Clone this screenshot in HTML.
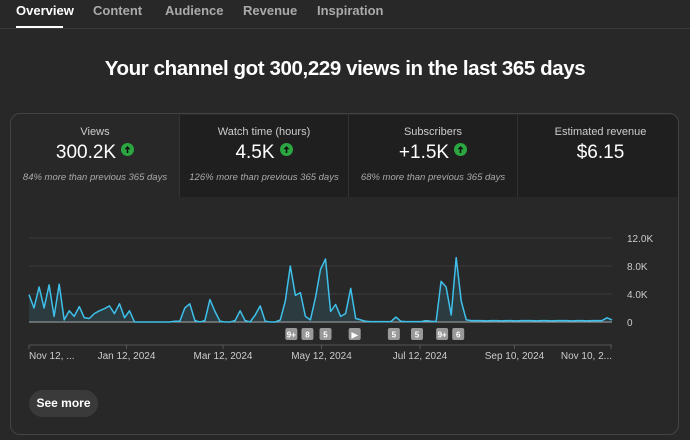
<!DOCTYPE html>
<html><head><meta charset="utf-8"><style>
body{margin:0;width:690px;height:440px;background:#282828;font-family:"Liberation Sans",sans-serif;color:#fff;overflow:hidden;position:relative}
.tab{position:absolute;top:3px;font-size:13px;font-weight:bold;color:#aaa}
.metric{position:absolute;top:1px;height:82px;text-align:center}
.ml{font-size:11px;color:#ccc;margin-top:11px}
.mv{font-size:19px;margin-top:4px;height:24px}
.up{display:inline-block;width:13px;height:13px;border-radius:50%;background:#2ba640;vertical-align:2px;margin-left:5px;position:relative}
.ms{font-size:9.5px;color:#aaa;font-style:italic;margin-top:6px}
</style></head><body>
<div class="tab" style="left:16px;color:#fff">Overview</div>
<div style="position:absolute;left:16px;top:26px;width:47px;height:2px;background:#fff"></div>
<div class="tab" style="left:93px">Content</div>
<div class="tab" style="left:165px">Audience</div>
<div class="tab" style="left:243px">Revenue</div>
<div class="tab" style="left:317px">Inspiration</div>
<div style="position:absolute;left:0;top:28px;width:690px;height:1px;background:#3a3a3a"></div>
<div style="position:absolute;left:0;width:690px;top:57px;text-align:center;font-size:20.5px;font-weight:bold;letter-spacing:-0.4px">Your channel got 300,229 views in the last 365 days</div>
<div style="position:absolute;left:10px;top:113px;width:669px;height:322px;border:1px solid #444;border-radius:10px;box-sizing:border-box;overflow:hidden">
 <div class="metric" style="left:0;width:168px"><div class="ml">Views</div><div class="mv">300.2K<svg class="up" viewBox="0 0 13 13"><path d="M6.5 3L3.5 6.3H5.7V10H7.3V6.3H9.5Z" fill="#111"/></svg></div><div class="ms">84% more than previous 365 days</div></div>
 <div class="metric" style="left:168px;width:168px;background:#1f1f1f;border-left:1px solid #333"><div class="ml">Watch time (hours)</div><div class="mv">4.5K<svg class="up" viewBox="0 0 13 13"><path d="M6.5 3L3.5 6.3H5.7V10H7.3V6.3H9.5Z" fill="#111"/></svg></div><div class="ms">126% more than previous 365 days</div></div>
 <div class="metric" style="left:337px;width:168px;background:#1f1f1f;border-left:1px solid #333"><div class="ml">Subscribers</div><div class="mv">+1.5K<svg class="up" viewBox="0 0 13 13"><path d="M6.5 3L3.5 6.3H5.7V10H7.3V6.3H9.5Z" fill="#111"/></svg></div><div class="ms">68% more than previous 365 days</div></div>
 <div class="metric" style="left:506px;width:165px;background:#1f1f1f;border-left:1px solid #333"><div class="ml">Estimated revenue</div><div class="mv">$6.15</div></div>
</div>
<svg id="chart" width="690" height="440" style="position:absolute;left:0;top:0"></svg>
<div style="position:absolute;left:29px;top:390px;width:69px;height:27px;border-radius:14px;background:#3a3a3a;font-size:12px;font-weight:bold;text-align:center;line-height:27px">See more</div>
<script>
const values=[3.9,2.0,5.0,2.0,5.3,0.8,5.4,0.3,1.6,0.8,2.2,0.6,0.5,1.2,1.6,1.9,2.3,1.2,2.6,0.6,1.6,0,0,0,0,0,0,0,0,0.1,0.1,2.0,2.6,0.2,0,0.2,3.2,1.5,0.1,0,0,0.2,1.6,0.2,0,1.0,2.3,0.1,0,0,0.3,3.0,8.0,3.8,4.2,0.8,0.3,3.5,7.5,9.0,1.5,2.5,0.8,1.2,4.8,0.5,0.3,0.1,0.05,0.05,0.05,0.05,0.05,0.7,0.1,0.05,0.05,0.05,0.05,0.2,0.1,0.05,5.8,5.0,1.0,9.2,3.0,0.3,0.2,0.2,0.2,0.15,0.2,0.2,0.15,0.2,0.2,0.15,0.2,0.2,0.2,0.15,0.2,0.2,0.15,0.2,0.2,0.2,0.15,0.2,0.2,0.15,0.2,0.2,0.2,0.6,0.3];
const yTicks=[0,4,8,12];
const yLabels=["0","4.0K","8.0K","12.0K"];
const xLabels=["Nov 12, ...","Jan 12, 2024","Mar 12, 2024","May 12, 2024","Jul 12, 2024","Sep 10, 2024","Nov 10, 2..."];
const xLabelIdx=[0,19.4,38.6,58.2,77.8,96.6,115.8];
const markers=["9+","8","5","▶","5","5","9+","6"];
const markerIdx=[52.2,55.4,59,64.8,72.6,77.2,82.2,85.4];
const NS="http://www.w3.org/2000/svg",svg=document.getElementById('chart');
const x0=29,x1=612,n=values.length;
const X=i=>x0+(x1-x0)*i/(n-1);
const Y=v=>322-v*7;
function mk(t,a,p){const e=document.createElementNS(NS,t);for(const k in a)e.setAttribute(k,a[k]);(p||svg).appendChild(e);return e;}
yTicks.forEach((t,i)=>{
 const g=mk('line',{x1:x0,x2:x1,y1:Y(t),y2:Y(t),stroke:t===0?'#aaa':'#3d3d3d','stroke-width':1});
 
 
 const l=mk('text',{x:627,y:Y(t)+4,fill:'#ccc','font-size':10,'font-family':'Liberation Sans'});
 l.textContent=yLabels[i];
 
 
});
let d='M'+X(0)+','+Y(values[0]);
values.forEach((v,i)=>{if(i)d+='L'+X(i).toFixed(1)+','+Y(v).toFixed(1);});
const area=mk('path',{d:d+'L'+X(n-1)+','+Y(0)+'L'+X(0)+','+Y(0)+'Z',fill:'rgba(62,166,200,0.15)'});


const line=mk('path',{d:d,fill:'none',stroke:'#3ec0ea','stroke-width':1.5,'stroke-linejoin':'round'});


markers.forEach((m,i)=>{
 const cx=X(markerIdx[i]);
 const r=mk('rect',{x:cx-6,y:328,width:12,height:12,rx:2,fill:'#999'});
 
 
 const t=mk('text',{x:cx,y:337.5,fill:'#fff','font-size':8,'font-weight':'bold','text-anchor':'middle','font-family':'Liberation Sans'});
 t.textContent=m;
 
 
});
const ax=mk('line',{x1:x0,x2:x1,y1:345,y2:345,stroke:'#555','stroke-width':1});


xLabels.forEach((s,i)=>{
 const x=X(xLabelIdx[i]);
 const tk=mk('line',{x1:x,x2:x,y1:345,y2:349,stroke:'#555'});
 
 
 const last=i===xLabels.length-1;
 const t=mk('text',{x:last?x1:x,y:359,fill:'#ccc','font-size':10,'text-anchor':i===0?'start':(last?'end':'middle'),'font-family':'Liberation Sans'});
 t.textContent=s;
 
 
});
</script>
</body></html>
